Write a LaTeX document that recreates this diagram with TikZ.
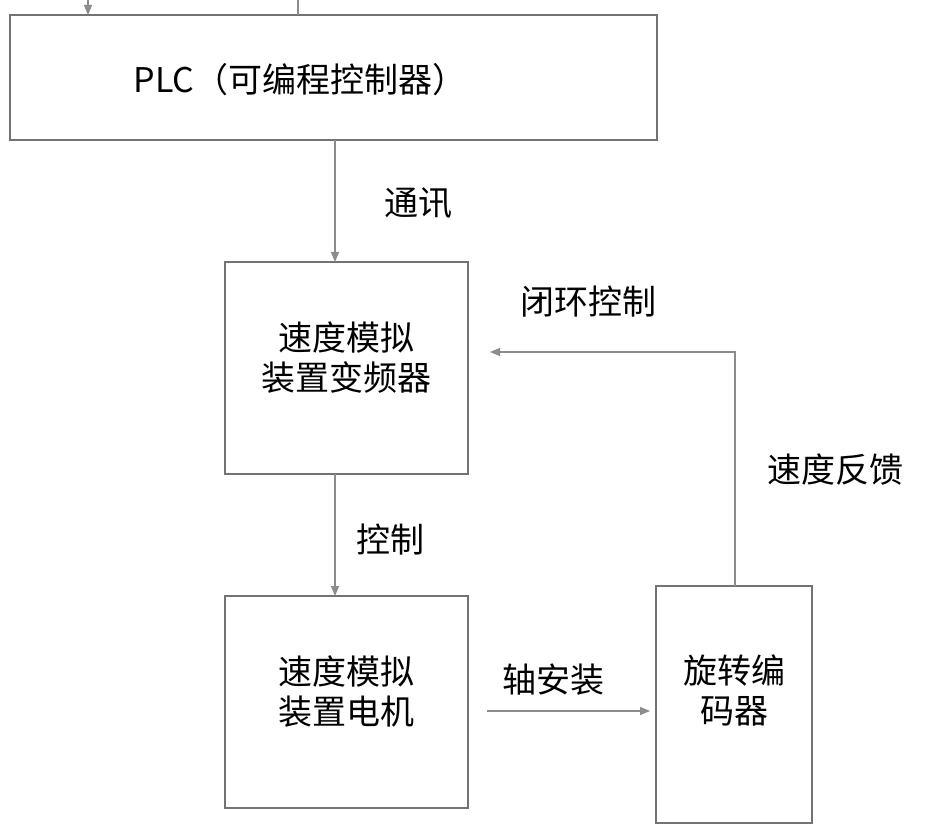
\documentclass[tikz,border=0pt]{standalone}
\usepackage{fontspec}
\setmainfont{Noto Sans CJK SC}
\usetikzlibrary{arrows.meta}
\begin{document}
\begin{tikzpicture}[x=1pt,y=-1pt,
  box/.style={draw=black!55,line width=1.3pt,inner sep=0pt},
  lab/.style={font=\fontsize{34}{40}\selectfont,align=center,inner sep=0pt},
  arr/.style={draw=black!45,line width=1.2pt,-{Triangle[length=10pt,width=8pt]}}]
\useasboundingbox (0,0) rectangle (927,837);
\draw[box] (10,15) rectangle (657,140);
\node[lab] (plc) at (300,80) {PLC（可编程控制器）};
\coordinate (plcb) at (335,140);
\draw[box] (225,262) rectangle (468,474);
\node[lab,align=center] (vfd) at (346,358) {速度模拟\\装置变频器};
\coordinate (vfdt) at (335,262);
\coordinate (vfdb) at (335,474);
\coordinate (vfdr) at (490,352);
\draw[box] (225,596) rectangle (468,808);
\node[lab] (mot) at (346,692) {速度模拟\\装置电机};
\coordinate (mott) at (335,596);
\coordinate (motr) at (487,711);
\draw[box] (656,586) rectangle (812,823);
\node[lab] (enc) at (734,690) {旋转编\\码器};
\coordinate (encl) at (650,711);
\coordinate (enct) at (735,586);
\coordinate (t1) at (88,0);\coordinate (t1b) at (88,15);
\coordinate (t2) at (298,0);\coordinate (t2b) at (298,15);
\draw[arr] (t1) -- (t1b);
\draw[draw=black!45,line width=1.2pt] (t2) -- (t2b);
\draw[arr] (plcb) -- (vfdt);
\draw[arr] (vfdb) -- (mott);
\draw[arr] (motr) -- (encl);
\draw[arr] (enct) -- (735,352) -- (vfdr);
\node[lab] at (418,203) {通讯};
\node[lab] at (390,540) {控制};
\node[lab] at (553,680) {轴安装};
\node[lab] at (588,302) {闭环控制};
\node[lab] at (835,470) {速度反馈};
\end{tikzpicture}
\end{document}
